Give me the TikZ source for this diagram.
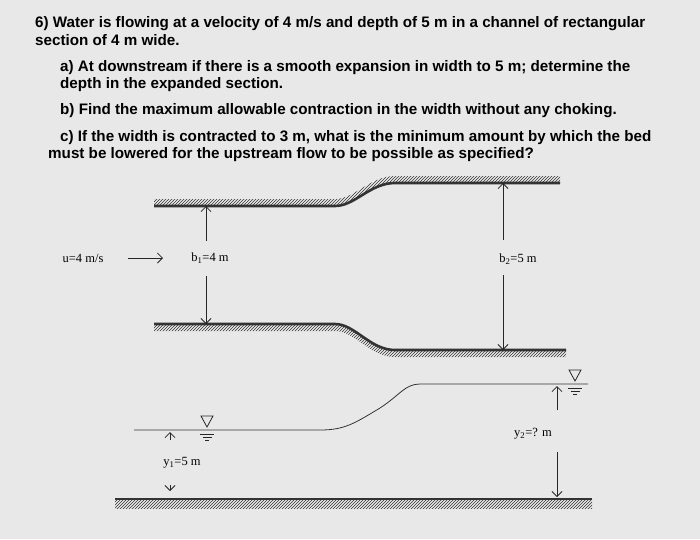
\documentclass[tikz,border=0pt]{standalone}
\usepackage{fontspec}
\setmainfont{Liberation Serif}
\newfontfamily\qfont{Liberation Sans}
\usetikzlibrary{patterns,arrows.meta}
\begin{document}
\begin{tikzpicture}[x=1pt,y=-1pt,
  q/.style={anchor=base west,inner sep=0,font=\qfont\bfseries\fontsize{15.2}{17}\selectfont},
  lab/.style={inner sep=1pt,font=\fontsize{12.5}{14}\selectfont},
  wall/.style={line width=2.6pt,black!80},
  hatch/.style={pattern=north east lines,pattern color=black!80},
  dim/.style={-{Straight Barb[length=5pt]},black!85,line width=0.8pt},
  surf/.style={black!80,line width=0.8pt}]
\fill[black!9] (0,0) rectangle (700,539);
\useasboundingbox (0,0) rectangle (700,539);
\node[q] (t1) at (35,27) {6) Water is flowing at a velocity of 4 m/s and depth of 5 m in a channel of rectangular};
\node[q] (t2) at (35,45) {section of 4 m wide.};
\node[q] (t3) at (60,71) {a) At downstream if there is a smooth expansion in width to 5 m; determine the};
\node[q] (t4) at (60,88) {depth in the expanded section.};
\node[q] (t5) at (60,114) {b) Find the maximum allowable contraction in the width without any choking.};
\node[q] (t6) at (60,141) {c) If the width is contracted to 3 m, what is the minimum amount by which the bed};
\node[q] (t7) at (48,158) {must be lowered for the upstream flow to be possible as specified?};
% top wall
\fill[hatch] (154,206) -- (335,206) .. controls (355,206) and (370,183) .. (395,183) -- (560,183)
  -- (560,176) -- (395,176) .. controls (370,176) and (355,199) .. (335,199) -- (154,199) -- cycle;
\draw[wall] (154,206) -- (335,206) .. controls (355,206) and (370,183) .. (395,183) -- (560,183);
% bottom wall
\fill[hatch] (154,324) -- (335,324) .. controls (355,324) and (370,350) .. (395,350) -- (566,350)
  -- (566,357) -- (395,357) .. controls (370,357) and (355,331) .. (335,331) -- (154,331) -- cycle;
\draw[wall] (154,324) -- (335,324) .. controls (355,324) and (370,350) .. (395,350) -- (566,350);
% bed
\fill[hatch] (115,499) rectangle (592,508);
\draw[wall] (115,499) -- (592,499);
% labels
\node[lab] (u) at (83,258) {u=4 m/s};
\coordinate (ua) at (128,258); \coordinate (ub) at (163,258);
\draw[dim] (ua) -- (ub);
\node[lab] (b1) at (210,258) {b\textsubscript{1}=4 m};
\coordinate (b1t) at (206,206); \coordinate (b1b) at (206,324);
\draw[dim] (206,241) -- (b1t);
\draw[dim] (206,276) -- (b1b);
\node[lab] (b2) at (518,259) {b\textsubscript{2}=5 m};
\coordinate (b2t) at (503,183); \coordinate (b2b) at (503,350);
\draw[dim] (503,240) -- (b2t);
\draw[dim] (503,275) -- (b2b);
% water surface
\draw[surf] (134,430) -- (320,430) .. controls (345,430) and (355,423) .. (380,408) .. controls (400,395) and (405,384) .. (420,384) -- (588,384);
% free-surface symbols
\foreach \n/\sx/\sy in {s1/207/430,s2/575/384}{
  \draw[black!85,line width=0.8pt] (\sx-6,\sy-14) -- (\sx+6,\sy-14) -- (\sx,\sy-3) -- cycle;
  \draw[black!85,line width=0.6pt] (\sx-7,\sy+4) -- (\sx+7,\sy+4) (\sx-4.5,\sy+7) -- (\sx+4.5,\sy+7) (\sx-2,\sy+10) -- (\sx+2,\sy+10);
}
\node[lab] (y1) at (182,463) {y\textsubscript{1}=5 m};
\coordinate (y1t) at (170,432); \coordinate (y1b) at (170,491);
\draw[dim] (170,440) -- (y1t);
\draw[dim] (170,485) -- (y1b);
\node[lab] (y2) at (533,434) {y\textsubscript{2}=? m};
\coordinate (y2t) at (557,386); \coordinate (y2b) at (557,497);
\draw[dim] (557,410) -- (y2t);
\draw[dim] (557,452) -- (y2b);
\end{tikzpicture}
\end{document}
